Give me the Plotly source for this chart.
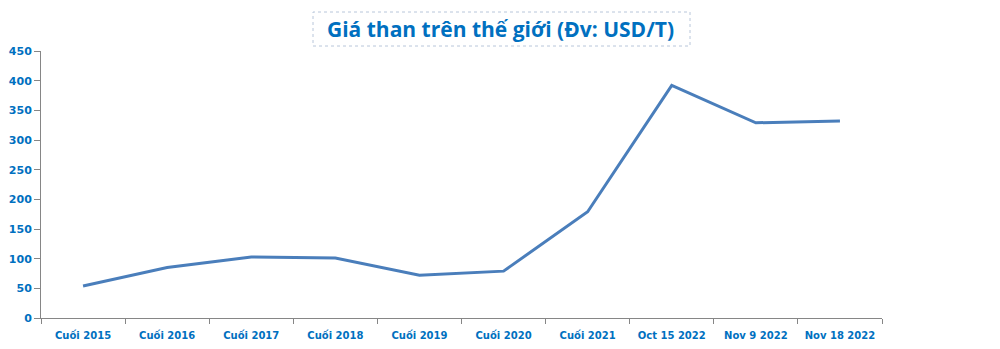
import plotly.graph_objects as go

categories = ["Cuối 2015", "Cuối 2016", "Cuối 2017", "Cuối 2018", "Cuối 2019",
              "Cuối 2020", "Cuối 2021", "Oct 15 2022", "Nov 9 2022", "Nov 18 2022"]
prices = [54, 85, 103, 101, 72, 79, 179, 392, 329, 332]
y_ticks = [0, 50, 100, 150, 200, 250, 300, 350, 400, 450]

blue_text = "#0070C0"

L, R, T, B = 41, 882, 51, 318
W, H = R - L, B - T

def px_x(p):
    return (p - L) / W

def px_y(p):
    return (B - p) / H

fig = go.Figure()
fig.add_trace(go.Scatter(x=categories, y=prices, mode="lines",
                         line=dict(color="#4A7EBB", width=3)))

fig.update_layout(
    width=1000, height=349,
    margin=dict(l=L, r=1000 - R, t=T, b=349 - B),
    paper_bgcolor="white", plot_bgcolor="white",
    showlegend=False,
    annotations=[dict(text="<b>Giá than trên thế giới (Đv: USD/T)</b>",
                      x=px_x(500), y=px_y(29), xref="paper", yref="paper",
                      xanchor="center", yanchor="middle", showarrow=False,
                      font=dict(family="Open Sans", size=21, color=blue_text))],
)
fig.add_shape(type="rect", xref="paper", yref="paper",
              x0=px_x(313), x1=px_x(690), y0=px_y(46), y1=px_y(12),
              line=dict(color="#B8C6DA", width=1, dash="dot"))

fig.update_xaxes(
    type="category", tickson="boundaries", ticks="outside", ticklen=5,
    tickcolor="#868686", showline=True, linecolor="#868686", linewidth=1,
    showgrid=False, range=[-0.5, 9.5], tickangle=0, automargin=False,
    ticklabelstandoff=8,
    tickfont=dict(family="DejaVu Sans", size=10, color=blue_text, weight="bold"),
)
fig.update_yaxes(
    range=[0, 450], tickvals=y_ticks, ticks="outside", ticklen=6,
    tickcolor="#868686", showline=True, linecolor="#868686", linewidth=1,
    showgrid=False, zeroline=False, automargin=False,
    tickfont=dict(family="DejaVu Sans", size=11, color=blue_text, weight="bold"),
)

fig.write_html("out.html")
